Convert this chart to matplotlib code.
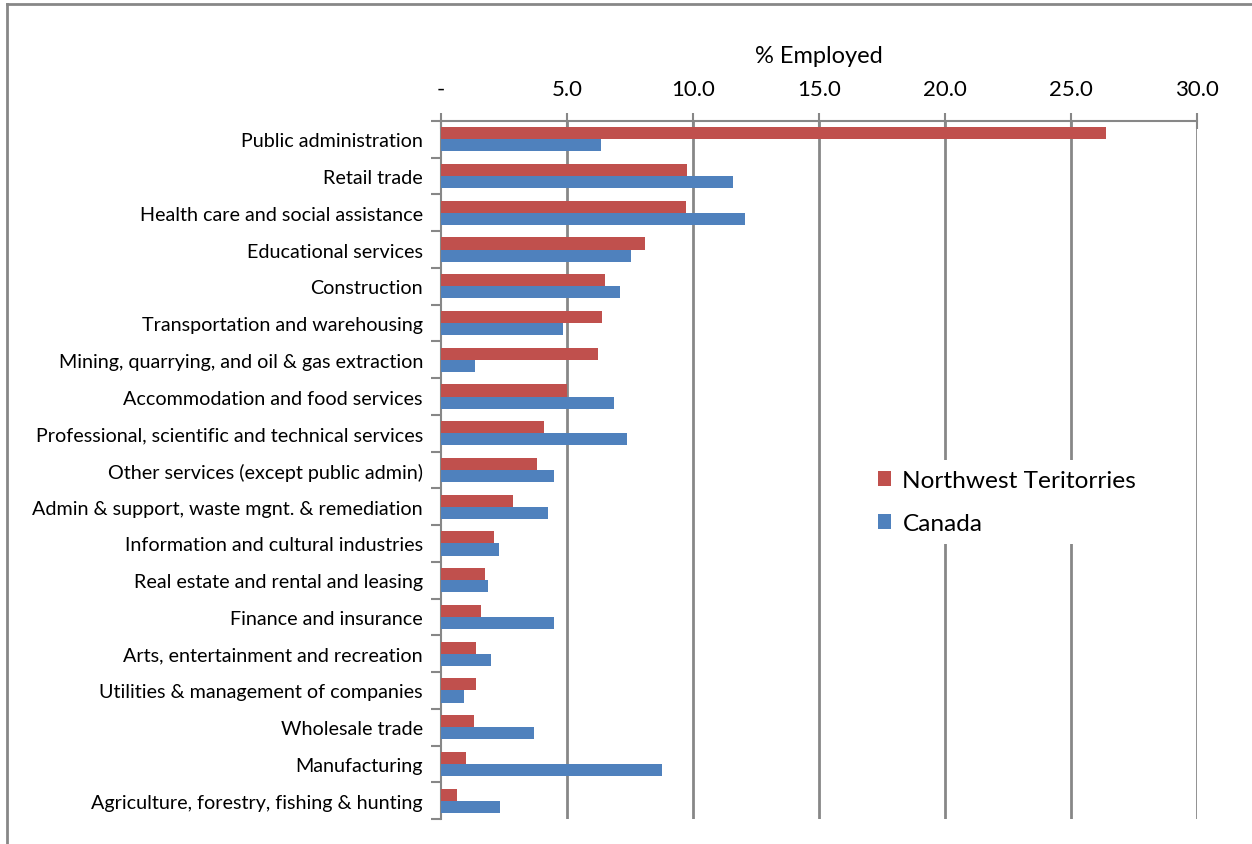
import matplotlib
matplotlib.use("Agg")
import matplotlib.pyplot as plt
from matplotlib.lines import Line2D
from matplotlib.patches import Patch
import numpy as np

categories = [
    "Public administration",
    "Retail trade",
    "Health care and social assistance",
    "Educational services",
    "Construction",
    "Transportation and warehousing",
    "Mining, quarrying, and oil & gas extraction",
    "Accommodation and food services",
    "Professional, scientific and technical services",
    "Other services (except public admin)",
    "Admin & support, waste mgnt. & remediation",
    "Information and cultural industries",
    "Real estate and rental and leasing",
    "Finance and insurance",
    "Arts, entertainment and recreation",
    "Utilities & management of companies",
    "Wholesale trade",
    "Manufacturing",
    "Agriculture, forestry, fishing & hunting",
]
nwt = [26.4, 9.76, 9.72, 8.10, 6.51, 6.38, 6.22, 5.0, 4.07, 3.81, 2.87, 2.12,
       1.76, 1.57, 1.40, 1.38, 1.30, 0.99, 0.65]
canada = [6.34, 11.57, 12.08, 7.53, 7.09, 4.83, 1.35, 6.88, 7.37, 4.48, 4.25,
          2.31, 1.85, 4.47, 1.98, 0.91, 3.70, 8.78, 2.35]
xticks = [0, 5, 10, 15, 20, 25, 30]
xticklabels = ["-", "5.0", "10.0", "15.0", "20.0", "25.0", "30.0"]
series_names = ["Northwest Teritorries", "Canada"]

RED = "#C0504D"
BLUE = "#4F81BD"
GRID = "#878787"

plt.rcParams['font.family'] = ['Lato', 'DejaVu Sans']

fig = plt.figure(figsize=(12.52, 8.45), dpi=100)
ax = fig.add_axes([441/1252, 1-820/845, (1197-441)/1252, (820-122)/845])

y = np.arange(len(categories))
h = 0.33
ax.barh(y - h/2, nwt, height=h, color=RED, zorder=3)
ax.barh(y + h/2, canada, height=h, color=BLUE, zorder=3)

ax.set_xlim(0, 30)
ax.set_ylim(len(categories) - 0.5, -0.5)

ax.xaxis.tick_top()
ax.xaxis.set_label_position('top')
ax.set_xticks(xticks)
ax.set_xticklabels(xticklabels, fontsize=16)
ax.set_xlabel("% Employed", fontsize=17, labelpad=12)
ax.tick_params(axis='x', direction='inout', length=12, width=1.5, color=GRID, pad=10)

ax.set_yticks(y)
ax.set_yticklabels(categories, fontsize=14.2)
ax.tick_params(axis='y', length=0, pad=13)
ax.set_yticks(np.arange(len(categories) + 1) - 0.5, minor=True)
ax.tick_params(axis='y', which='minor', direction='out', length=7, width=1.5, color=GRID)

for s in ['right', 'bottom']:
    ax.spines[s].set_visible(False)
for s in ['top', 'left']:
    ax.spines[s].set_color(GRID)
    ax.spines[s].set_linewidth(1.5)

for xv in xticks[1:]:
    ax.axvline(xv, color=GRID, lw=2, zorder=1)

handles = [Patch(facecolor=RED, edgecolor='none'), Patch(facecolor=BLUE, edgecolor='none')]
leg = fig.legend(handles, series_names, loc='upper left',
                 bbox_to_anchor=(856/1252, 1-449/845), fontsize=17.6,
                 frameon=True, facecolor='white', edgecolor='none', framealpha=1,
                 handlelength=0.55, handleheight=0.55, handletextpad=0.45,
                 labelspacing=0.9, borderpad=0.4, fancybox=False)
leg.set_zorder(10)

# outer frame (left and top lines)
fig.add_artist(Line2D([6.5/1252, 6.5/1252], [0, 1-4.5/845], transform=fig.transFigure, color=GRID, lw=2))
fig.add_artist(Line2D([6.5/1252, 1], [1-4.5/845, 1-4.5/845], transform=fig.transFigure, color=GRID, lw=2))

fig.savefig("out.png", dpi=100)
